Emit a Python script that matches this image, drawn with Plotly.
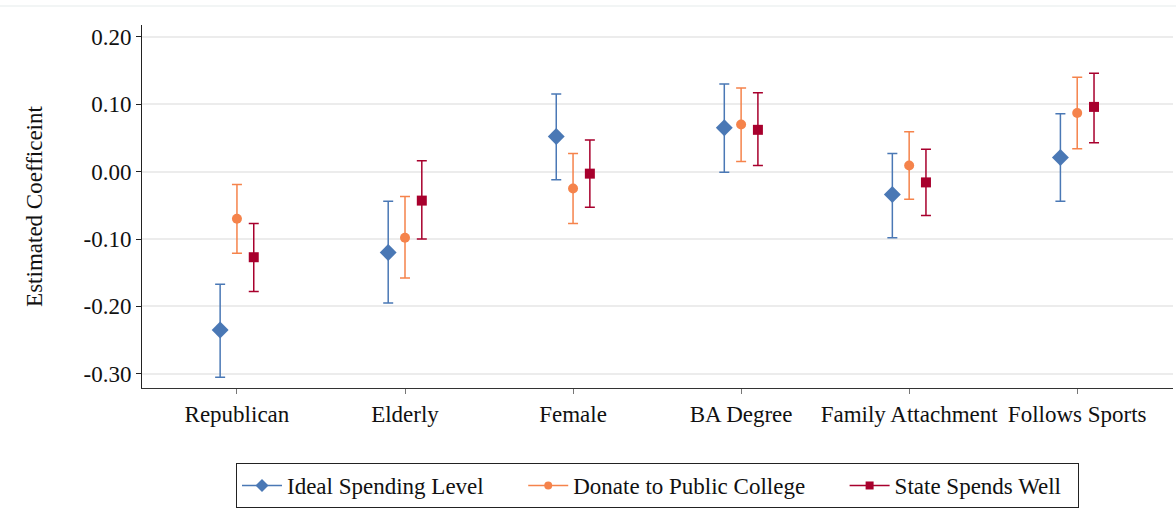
import plotly.graph_objects as go

# Coefficient estimates with 95% confidence bounds
categories = ["Republican", "Elderly", "Female", "BA Degree", "Family Attachment", "Follows Sports"]

ideal_est = [-0.235, -0.120, 0.052, 0.065, -0.034, 0.021]
ideal_lo = [-0.305, -0.195, -0.012, -0.001, -0.098, -0.044]
ideal_hi = [-0.167, -0.044, 0.115, 0.130, 0.027, 0.086]

donate_est = [-0.070, -0.098, -0.025, 0.070, 0.009, 0.087]
donate_lo = [-0.121, -0.158, -0.077, 0.015, -0.041, 0.034]
donate_hi = [-0.019, -0.037, 0.027, 0.124, 0.059, 0.140]

state_est = [-0.127, -0.043, -0.003, 0.062, -0.016, 0.096]
state_lo = [-0.178, -0.100, -0.053, 0.009, -0.065, 0.043]
state_hi = [-0.077, 0.016, 0.047, 0.117, 0.033, 0.146]

ytick_vals = [0.20, 0.10, 0.00, -0.10, -0.20, -0.30]
ytick_text = ["0.20", "0.10", "0.00", "-0.10", "-0.20", "-0.30"]

series = [
    ("Ideal Spending Level", ideal_est, ideal_lo, ideal_hi, "#4a78b5", "diamond", 13, 10, -0.1),
    ("Donate to Public College", donate_est, donate_lo, donate_hi, "#f5834b", "circle", 10, 8, 0.0),
    ("State Spends Well", state_est, state_lo, state_hi, "#a8002d", "square", 10, 8, 0.1),
]

FONT = "Liberation Serif"
FS = 23
GAP = "\u00a0" * 6
fig = go.Figure()

for name, est, lo, hi, color, symbol, size, lsize, offset in series:
    xs = [i + offset for i in range(len(categories))]
    fig.add_trace(go.Scatter(
        x=xs, y=est, mode="markers", showlegend=False, name=name,
        marker=dict(symbol=symbol, size=size, color=color),
        error_y=dict(type="data", symmetric=False,
                     array=[h - e for h, e in zip(hi, est)],
                     arrayminus=[e - l for e, l in zip(est, lo)],
                     color=color, thickness=1.5, width=5),
    ))

# legend entries drawn as line + marker
for k, (name, est, lo, hi, color, symbol, size, lsize, offset) in enumerate(series):
    fig.add_trace(go.Scatter(
        x=[None], y=[None], mode="lines+markers",
        name=name + (GAP if k < len(series) - 1 else "\u00a0\u00a0"),
        line=dict(color=color, width=1.5),
        marker=dict(symbol=symbol, size=lsize, color=color),
    ))

fig.update_layout(
    width=1176, height=510,
    margin=dict(l=142, r=3, t=25, b=121),
    paper_bgcolor="white", plot_bgcolor="white",
    font=dict(family=FONT, size=FS, color="#111111"),
    showlegend=True,
    legend=dict(orientation="h", x=0.5, xanchor="center", y=-0.327, yanchor="bottom",
                bordercolor="#222222", borderwidth=1, font=dict(family=FONT, size=FS),
                itemwidth=40, tracegroupgap=0),
    xaxis=dict(range=[-0.565, 5.57], tickmode="array",
               tickvals=list(range(len(categories))), ticktext=categories,
               showgrid=False, zeroline=False, showline=True, linecolor="#333333",
               linewidth=1, ticks="outside", ticklen=5, tickcolor="#777777",
               tickfont=dict(family=FONT, size=FS)),
    yaxis=dict(range=[-0.321, 0.2175], tickmode="array", tickvals=ytick_vals,
               ticktext=ytick_text, showgrid=True, gridcolor="#ececec", gridwidth=1.5,
               zeroline=False, showline=True, linecolor="#222222", linewidth=1,
               ticks="outside", ticklen=5, tickcolor="#222222",
               tickfont=dict(family=FONT, size=FS),
               title=dict(text="Estimated Coefficeint", standoff=34,
                          font=dict(family=FONT, size=FS))),
    shapes=[dict(type="line", xref="paper", yref="paper", x0=-0.14, x1=1.01,
                 y0=1.052, y1=1.052, line=dict(color="#eef2f2", width=1.5))],
)

fig.write_html("out.html")
